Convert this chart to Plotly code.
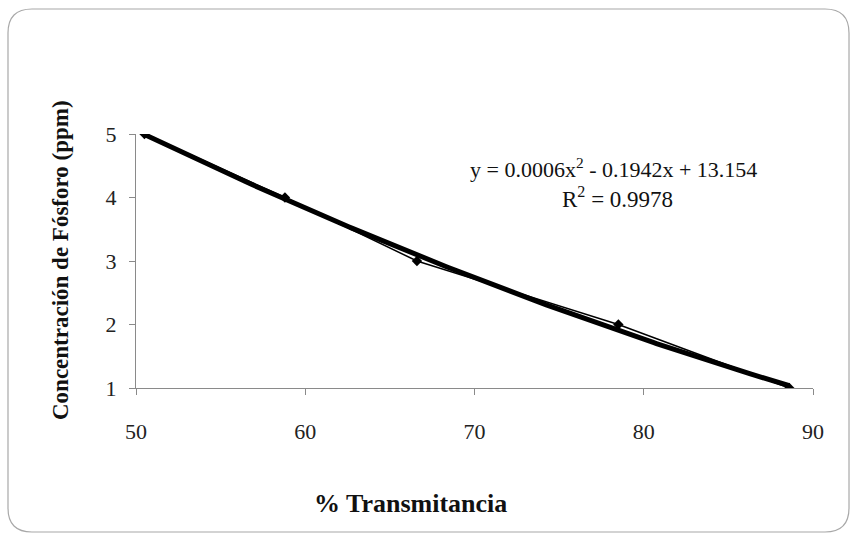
import numpy as np
import plotly.graph_objects as go

# Data
transmitancia = [50.5, 58.8, 66.6, 78.5, 88.6]
fosforo = [5, 4, 3, 2, 1]
x_ticks = [50, 60, 70, 80, 90]
y_ticks = [1, 2, 3, 4, 5]
eq_text = "y = 0.0006x<sup>2</sup> - 0.1942x + 13.154"
r2_text = "R<sup>2</sup> = 0.9978"

# Polynomial (order 2) trendline fitted to the data
coef = np.polyfit(transmitancia, fosforo, 2)
xt = np.linspace(min(transmitancia), max(transmitancia), 200)
yt = np.polyval(coef, xt)

SERIF = "Liberation Serif"

fig = go.Figure()
fig.add_trace(go.Scatter(
    x=transmitancia, y=fosforo, mode="lines+markers",
    line=dict(color="black", width=1.5),
    marker=dict(symbol="diamond", size=8, color="black"),
    showlegend=False, hoverinfo="skip"))
fig.add_trace(go.Scatter(
    x=xt, y=yt, mode="lines",
    line=dict(color="black", width=5),
    showlegend=False, hoverinfo="skip"))

axis_common = dict(
    showgrid=False, zeroline=False, showline=True,
    linecolor="#8a8a8a", linewidth=1,
    ticks="outside", ticklen=6, tickcolor="#8a8a8a",
    tickfont=dict(family=SERIF, size=22, color="#222222"),
)
fig.update_xaxes(range=[50, 90], tickvals=x_ticks, ticklabelstandoff=18, **axis_common)
fig.update_yaxes(range=[1, 5], tickvals=y_ticks, ticklabelstandoff=8, **axis_common)

W, H = 855, 539
ml, mr, mt, mb = 136, 42, 134, 151
fig.update_layout(
    width=W, height=H,
    margin=dict(l=ml, r=mr, t=mt, b=mb),
    paper_bgcolor="white", plot_bgcolor="white",
    font=dict(family=SERIF),
)

PW, PH = W - ml - mr, H - mt - mb

def ax(px):
    return (px - ml) / PW

def ay(py):
    return (H - mb - py) / PH

# Axis titles (positioned as in the reference)
fig.add_annotation(xref="paper", yref="paper",
                   x=ax(410), y=ay(503),
                   text="<b>% Transmitancia</b>", showarrow=False,
                   font=dict(family=SERIF, size=26, color="#111111"),
                   xanchor="center", yanchor="middle")
fig.add_annotation(xref="paper", yref="paper",
                   x=ax(60), y=ay(260),
                   text="<b>Concentración de Fósforo (ppm)</b>", showarrow=False,
                   textangle=-90,
                   font=dict(family=SERIF, size=23, color="#111111"),
                   xanchor="center", yanchor="middle")

# Equation and R²
fig.add_annotation(xref="paper", yref="paper",
                   x=ax(613), y=ay(168),
                   text=eq_text, showarrow=False,
                   font=dict(family=SERIF, size=22, color="#111111"),
                   xanchor="center", yanchor="middle")
fig.add_annotation(xref="paper", yref="paper",
                   x=ax(617), y=ay(197),
                   text=r2_text, showarrow=False,
                   font=dict(family=SERIF, size=23, color="#111111"),
                   xanchor="center", yanchor="middle")

# Rounded border around the chart area
x0, y0, x1, y1, r = 8, 9, 849, 532, 24
path = (f"M {x0+r},{y0} L {x1-r},{y0} Q {x1},{y0} {x1},{y0+r} "
        f"L {x1},{y1-r} Q {x1},{y1} {x1-r},{y1} L {x0+r},{y1} "
        f"Q {x0},{y1} {x0},{y1-r} L {x0},{y0+r} Q {x0},{y0} {x0+r},{y0} Z")

def conv(path):
    out = []
    for tok in path.split(" "):
        if "," in tok:
            a, b = tok.split(",")
            out.append(f"{ax(float(a)):.5f},{ay(float(b)):.5f}")
        else:
            out.append(tok)
    return " ".join(out)

fig.add_shape(type="path", xref="paper", yref="paper", path=conv(path),
              line=dict(color="#a8a8a8", width=1.2), layer="below")

fig.write_html("out.html")
